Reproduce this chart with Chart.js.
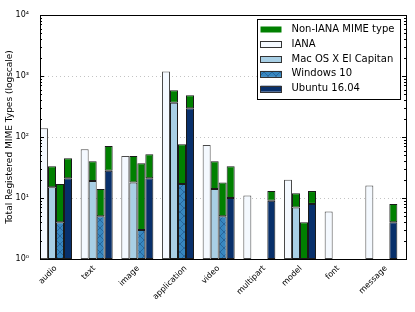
<!DOCTYPE html>
<html>
<head>
<meta charset="utf-8">
<script src="https://cdn.jsdelivr.net/npm/chart.js@4.4.0/dist/chart.umd.min.js"></script>
<style>
  html, body { margin: 0; padding: 0; background: #fff; }
</style>
</head>
<body>
<canvas id="chart" width="415" height="312"></canvas>
<script>
const categories = ['audio', 'text', 'image', 'application', 'video', 'multipart', 'model', 'font', 'message'];
const iana = [139, 63, 49, 1190, 74, 11, 20, 6, 16];
// types known to the OS that are also IANA-registered
const macIana = [15, 19, 18, 365, 14, null, 7, null, null];
const winIana = [4, 5, 3, 17, 5, null, null, null, null];
const ubuntuIana = [21, 28, 21, 295, 10, 9, 8, null, 4];
// types known to the OS that are not IANA-registered (stacked on top)
const macNonIana = [18, 21, 31, 217, 26, null, 5, null, null];
const winNonIana = [13, 9, 34, 59, 13, null, 4, null, null];
const ubuntuNonIana = [24, 43, 31, 187, 23, 4, 5, null, 4];
const yTicks = [1, 10, 100, 1000, 10000];
const legendNames = ['Non-IANA MIME type', 'IANA', 'Mac OS X El Capitan', 'Windows 10', 'Ubuntu 16.04'];

const FONT = 'DejaVu Sans';
const GREEN = '#008000';
const CAT_PCT = 0.787;

// 'x' hatch for the Windows bars
function hatch(base) {
  const c = document.createElement('canvas');
  c.width = 8; c.height = 8;
  const g = c.getContext('2d');
  g.fillStyle = base;
  g.fillRect(0, 0, 8, 8);
  g.strokeStyle = 'rgba(20, 60, 110, 0.55)';
  g.lineWidth = 0.8;
  g.beginPath();
  g.moveTo(0, 0); g.lineTo(8, 8);
  g.moveTo(0, 8); g.lineTo(8, 0);
  g.stroke();
  return g.createPattern(c, 'repeat');
}

const winFill = hatch('#3787c0');
const fills = ['#f4f9ff', '#a8cfe5', winFill, '#08306b'];

const sup = { '0': '⁰', '1': '¹', '2': '²', '3': '³', '4': '⁴' };

function bar(label, data, stack, color, edge) {
  return {
    label: label, data: data, stack: stack,
    backgroundColor: color, borderColor: edge || '#1a1a1a',
    borderWidth: c => (c.raw == null ? 0 : 1),
    borderSkipped: false
  };
}

const framePlugin = {
  id: 'frame',
  afterLayout(chart) {
    // groups start at the left edge of each slot, like the original
    chart.scales.x._startValue += (1 - CAT_PCT) / 2;
  },
  beforeDatasetsDraw(chart) {
    const { ctx, chartArea: a, scales: { y } } = chart;
    ctx.save();
    ctx.strokeStyle = '#c4c4c4';
    ctx.lineWidth = 1;
    ctx.setLineDash([1, 3]);
    yTicks.slice(1, -1).forEach(v => {
      const py = Math.round(y.getPixelForValue(v)) + 0.5;
      ctx.beginPath(); ctx.moveTo(a.left, py); ctx.lineTo(a.right, py); ctx.stroke();
    });
    ctx.restore();
  },
  afterDatasetsDraw(chart) {
    const { ctx, chartArea: a, scales: { x, y } } = chart;
    ctx.save();
    ctx.strokeStyle = '#000';
    ctx.lineWidth = 1;
    for (let k = 0; k < 4; k++) {
      for (let m = 1; m < 10; m++) {
        const py = Math.round(y.getPixelForValue(m * Math.pow(10, k))) + 0.5;
        const len = m === 1 ? 4 : 2;
        ctx.beginPath();
        ctx.moveTo(a.left, py); ctx.lineTo(a.left + len, py);
        ctx.moveTo(a.right, py); ctx.lineTo(a.right - len, py);
        ctx.stroke();
      }
    }
    ctx.strokeRect(Math.round(a.left) + 0.5, Math.round(a.top) + 0.5,
      Math.round(a.right - a.left), Math.round(a.bottom - a.top));

    // category labels, rotated 45deg and centred under the second bar edge
    const slot = x.getPixelForValue(1) - x.getPixelForValue(0);
    const barW = slot * CAT_PCT / 4;
    ctx.fillStyle = '#000';
    ctx.font = '8px "' + FONT + '"';
    ctx.textAlign = 'center';
    ctx.textBaseline = 'middle';
    categories.forEach((name, i) => {
      const L = ctx.measureText(name).width;
      const cx = x.getPixelForValue(i) - barW;
      const cy = a.bottom + 6 + (L + 6) * Math.SQRT1_2 / 2;
      ctx.save();
      ctx.translate(cx, cy);
      ctx.rotate(-Math.PI / 4);
      ctx.fillText(name, 0, 0);
      ctx.restore();
    });
    ctx.restore();
  },
  afterDraw(chart) {
    const { ctx, chartArea: a } = chart;
    const w = 143, h = 80;
    const bx = Math.round(a.right - 6 - w) + 0.5, by = Math.round(a.top + 4) + 0.5;
    ctx.save();
    ctx.fillStyle = '#fff';
    ctx.fillRect(bx, by, w, h);
    ctx.strokeStyle = '#000';
    ctx.lineWidth = 1;
    ctx.strokeRect(bx, by, w, h);
    const swatches = [GREEN].concat(fills);
    legendNames.forEach((name, i) => {
      const cy = by + 10 + i * 14.8;
      ctx.fillStyle = swatches[i];
      ctx.fillRect(bx + 3, cy - 3, 21, 6);
      if (i > 0) {
        ctx.strokeStyle = '#333';
        ctx.strokeRect(bx + 3, Math.round(cy - 3) + 0.5, 21, 6);
      }
      ctx.fillStyle = '#000';
      ctx.font = '10px "' + FONT + '"';
      ctx.textBaseline = 'middle';
      ctx.fillText(name, bx + 34, cy);
    });
    ctx.restore();
  }
};

new Chart(document.getElementById('chart'), {
  type: 'bar',
  data: {
    labels: categories,
    datasets: [
      bar('IANA', iana, 'iana', fills[0], '#4a4a4a'),
      bar('Mac OS X El Capitan', macIana, 'mac', fills[1]),
      bar('Non-IANA (Mac)', macNonIana, 'mac', GREEN),
      bar('Windows 10', winIana, 'win', fills[2]),
      bar('Non-IANA (Windows)', winNonIana, 'win', GREEN),
      bar('Ubuntu 16.04', ubuntuIana, 'ubuntu', fills[3]),
      bar('Non-IANA (Ubuntu)', ubuntuNonIana, 'ubuntu', GREEN)
    ]
  },
  options: {
    responsive: false,
    animation: false,
    layout: { padding: { top: 15, right: 9, left: 0, bottom: 0 } },
    datasets: { bar: { categoryPercentage: CAT_PCT, barPercentage: 1 } },
    plugins: { legend: { display: false }, tooltip: { enabled: false } },
    scales: {
      x: {
        stacked: true,
        grid: { display: false },
        border: { display: false },
        ticks: { display: false },
        afterFit: s => { s.height = 53; }
      },
      y: {
        type: 'logarithmic',
        stacked: true,
        min: 1,
        max: 10000,
        grid: { display: false },
        border: { display: false },
        afterBuildTicks: s => { s.ticks = yTicks.map(v => ({ value: v })); },
        ticks: {
          color: '#000', font: { family: FONT, size: 8 }, padding: 3,
          callback: v => '10' + sup[String(Math.round(Math.log10(v)))]
        },
        title: {
          display: true, text: 'Total Registered MIME Types (logscale)',
          color: '#000', font: { family: FONT, size: 9 }, padding: { top: 4, bottom: 0 }
        },
        afterFit: s => { s.width = 40; }
      }
    }
  },
  plugins: [framePlugin]
});
</script>
</body>
</html>
